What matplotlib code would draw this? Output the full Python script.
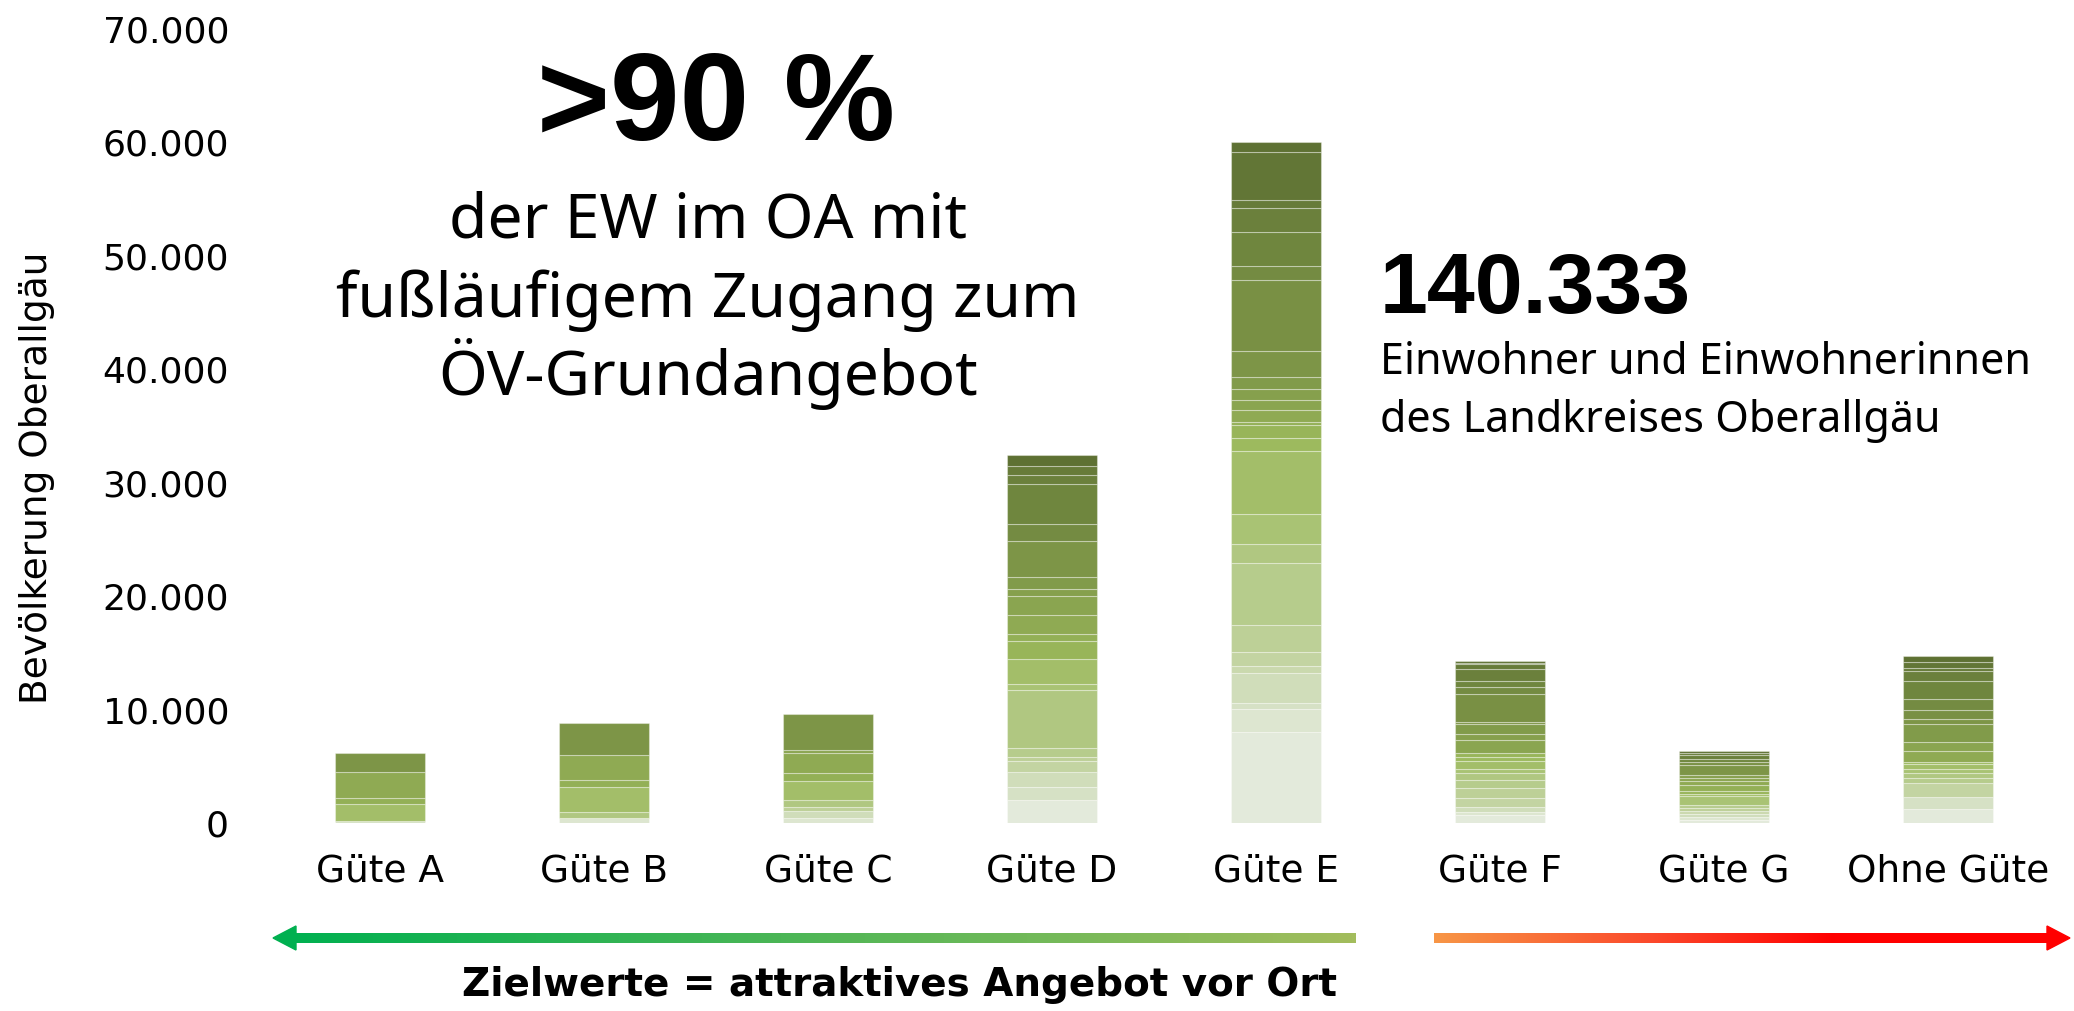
import numpy as np
import matplotlib.pyplot as plt
import matplotlib.ticker as mticker
from matplotlib.colors import LinearSegmentedColormap
from matplotlib.patches import Polygon

# Güte-Klassen (x-Achse)
categories = ["Güte A", "Güte B", "Güte C", "Güte D", "Güte E", "Güte F", "Güte G", "Ohne Güte"]

# Einwohner je Gemeinde (26 Reihen, gleiche Reihenfolge in jeder Klasse), von unten nach oben
guete_a = [0, 0, 200, 0, 0, 0, 0, 0, 0, 0, 1500, 0, 0, 500, 2320, 0, 0, 0, 1650, 0, 0, 0, 0, 0, 0, 0]
guete_b = [0, 470, 0, 0, 0, 0, 0, 0, 470, 0, 2200, 0, 0, 680, 2150, 0, 0, 0, 2820, 0, 0, 0, 0, 0, 0, 0]
guete_c = [0, 440, 0, 620, 0, 0, 350, 0, 590, 0, 1700, 0, 0, 740, 1760, 210, 0, 0, 3180, 0, 0, 0, 0, 0, 0, 0]
guete_d = [2060, 0, 1150, 1320, 0, 970, 350, 790, 5090, 530, 2200, 0, 1620, 590, 1680, 1620, 620, 1120,
           3120, 0, 1500, 3530, 790, 790, 0, 970]
guete_e = [8000, 2070, 520, 2640, 570, 1300, 2400, 5400, 1700, 2600, 5600, 1100, 1200, 250, 1050, 900,
           1000, 1000, 2300, 6300, 1200, 3000, 2100, 700, 4300, 800]
guete_f = [710, 290, 0, 440, 0, 760, 880, 710, 650, 320, 700, 380, 320, 0, 0, 1120, 590, 820, 180, 2500,
           620, 560, 1030, 410, 120, 150]
guete_g = [240, 270, 0, 260, 320, 0, 210, 260, 0, 790, 240, 0, 240, 500, 410, 260, 210, 0, 880, 320, 0,
           260, 290, 210, 0, 150]
ohne_guete = [1240, 0, 1090, 0, 0, 1180, 0, 440, 470, 350, 410, 240, 0, 0, 940, 820, 0, 1560, 440, 740,
              1030, 1530, 880, 320, 500, 500]

y_ticks = [0, 10000, 20000, 30000, 40000, 50000, 60000, 70000]

W, H = 2074, 1011
fig = plt.figure(figsize=(W / 100, H / 100), dpi=100)

def fx(px):
    return px / W

def fy(py):
    return 1 - py / H

ax = fig.add_axes([fx(268), fy(823), 1792 / W, 794 / H])

data = np.array([guete_a, guete_b, guete_c, guete_d, guete_e, guete_f, guete_g, ohne_guete])
n_series = data.shape[1]
x = np.arange(len(categories))

cmap = LinearSegmentedColormap.from_list("oa", [(0, "#e3eadb"), (0.45, "#9bb95b"), (1, "#5e7133")])

bottom = np.zeros(len(categories))
for i in range(n_series):
    vals = data[:, i]
    mask = vals > 0
    ax.bar(x[mask], vals[mask], bottom=bottom[mask], width=0.4,
           color=cmap(i / (n_series - 1)), edgecolor=(1, 1, 1, 0.35), linewidth=0.8)
    bottom += vals

ax.set_xlim(-0.5, len(categories) - 0.5)
ax.set_ylim(0, 70000)
ax.set_yticks(y_ticks)
ax.yaxis.set_major_formatter(mticker.FuncFormatter(lambda v, p: f"{int(v):,}".replace(",", ".")))
ax.set_xticks(x)
ax.set_xticklabels(categories)
ax.tick_params(axis="y", length=0, pad=28, labelsize=26)
ax.tick_params(axis="x", length=0, pad=22, labelsize=27)
for s in ax.spines.values():
    s.set_visible(False)

fig.text(fx(37), fy(478), "Bevölkerung Oberallgäu", rotation=90, ha="center", va="center",
         family="DejaVu Sans", fontsize=27)

# Texte
fig.text(fx(716), fy(140), ">90 %", ha="center", va="baseline", family="Liberation Sans",
         fontweight="bold", fontsize=90)
for line, base in [("der EW im OA mit", 238), ("fußläufigem Zugang zum", 317), ("ÖV-Grundangebot", 395)]:
    fig.text(fx(708), fy(base), line, ha="center", va="baseline", family="Noto Sans", fontsize=45)

fig.text(fx(1380), fy(313), "140.333", ha="left", va="baseline", family="Liberation Sans",
         fontweight="bold", fontsize=62)
fig.text(fx(1380), fy(374), "Einwohner und Einwohnerinnen", ha="left", va="baseline",
         family="Noto Sans", fontsize=31)
fig.text(fx(1380), fy(432), "des Landkreises Oberallgäu", ha="left", va="baseline",
         family="Noto Sans", fontsize=31)

fig.text(fx(899), fy(985), "Zielwerte = attraktives Angebot vor Ort", ha="center", va="center",
         family="DejaVu Sans", fontweight="bold", fontsize=28)

# Pfeile mit Farbverlauf
deco = fig.add_axes([0, 0, 1, 1], zorder=-1)

def gradient_bar(x0, x1, yc, thick, colors):
    cm = LinearSegmentedColormap.from_list("g", colors)
    grad = np.linspace(0, 1, 256)[None, :]
    deco.imshow(grad, cmap=cm, extent=(x0, x1, yc + thick / 2, yc - thick / 2), aspect="auto")

ya = 938
gradient_bar(290, 1356, ya, 10, ["#00b050", "#a3bd5d"])
deco.add_patch(Polygon([(273, ya), (296, ya - 12), (296, ya + 12)], closed=True, color="#00b050"))
gradient_bar(1434, 2050, ya, 10, [(0, "#f79646"), (0.35, "#fb4a2c"), (0.65, "#ff0000"), (1, "#ff0000")])
deco.add_patch(Polygon([(2070, ya), (2047, ya - 12), (2047, ya + 12)], closed=True, color="#ff0000"))
deco.set_xlim(0, W)
deco.set_ylim(H, 0)
deco.axis("off")

fig.savefig("out.png", dpi=100)
